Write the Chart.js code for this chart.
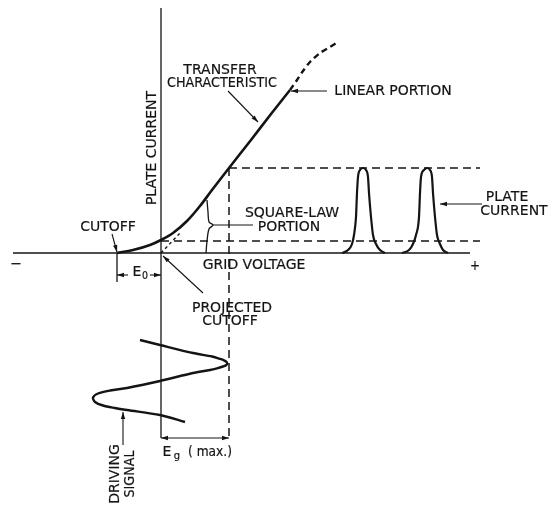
<!DOCTYPE html>
<html>
<head>
<meta charset="utf-8">
<script src="https://cdn.jsdelivr.net/npm/chart.js@4/dist/chart.umd.min.js"></script>
<style>
  body { margin: 0; background: #fff; }
  #grafico { display: block; }
</style>
</head>
<body>
<canvas id="grafico" width="556" height="506"></canvas>
<script>
// grid voltage (x) and plate current (y), arbitrary units, origin at the axis crossing
var gridAxis = [[-14.8, 0], [30.9, 0]];
var plateAxis = [[0, 24.5], [0, -18.5]];

var transferSolid = [[-4.4, 0], [-2.8, 0.3], [-1.1, 0.8], [0, 1.3], [1.2, 2.0], [2.6, 3.2],
                     [3.9, 4.7], [5.1, 6.3], [6.8, 8.5], [9.0, 11.3], [11.0, 13.9], [12.9, 16.3]];
var transferDashed = [[12.9, 16.3], [13.6, 17.3], [14.2, 18.2], [14.9, 19.1], [15.9, 20.0],
                      [16.9, 20.6], [17.7, 21.1]];
var projectedCutoff = [[0, 0], [2.0, 2.1]];

var maxCurrent = [[6.8, 8.5], [31.9, 8.5]];
var minCurrent = [[0, 1.2], [31.9, 1.2]];
var maxGrid = [[6.8, 8.5], [6.8, -18.7]];

var pulse1 = [[18.1, 0], [18.7, 0.3], [19.1, 0.9], [19.3, 1.8], [19.5, 3.6], [19.6, 6.0], [19.7, 7.6],
              [19.9, 8.3], [20.2, 8.5], [20.5, 8.3], [20.7, 7.6], [20.8, 6.0], [21.0, 3.6],
              [21.2, 1.8], [21.5, 0.9], [21.9, 0.3], [22.4, 0]];
var pulse2 = [[24.1, 0], [24.8, 0.3], [25.2, 0.9], [25.5, 1.8], [25.8, 3.6], [25.9, 6.0], [26.0, 7.6],
              [26.3, 8.3], [26.6, 8.5], [26.9, 8.3], [27.1, 7.6], [27.2, 6.0], [27.4, 3.6],
              [27.6, 1.8], [27.9, 0.9], [28.2, 0.3], [28.7, 0]];

var drivingSignal = [[-2.1, -8.7], [-0.1, -9.2], [3.2, -10.0], [5.1, -10.35], [5.8, -10.56],
                     [6.3, -10.73], [6.6, -10.95], [6.55, -11.18], [6.2, -11.35], [5.6, -11.53],
                     [4.9, -11.7], [3.2, -12.0], [-0.1, -12.8], [-3.4, -13.5], [-5.1, -13.75],
                     [-6.3, -14.05], [-6.8, -14.45], [-6.6, -14.9], [-5.8, -15.25], [-4.6, -15.5],
                     [-3.4, -15.7], [-0.1, -16.2], [2.4, -16.9]];

var cutoffTick = [[-4.4, 0], [-4.4, -2.9]];
var squareBrace = [[4.6, 5.3], [4.7, 4.1], [4.8, 3.1], [5.2, 2.8], [4.8, 2.4], [4.6, 1.2], [4.5, 0]];

// leader lines: from, to, arrowhead at "to"
var leaders = [
  { de: [6.7, 16.2], para: [9.7, 13.1], seta: true },
  { de: [16.6, 16.2], para: [13.0, 16.2], seta: true },
  { de: [-4.9, 1.9], para: [-4.4, 0.1], seta: true },
  { de: [5.2, 2.8], para: [9.2, 2.8], seta: false },
  { de: [32.1, 4.9], para: [27.9, 4.9], seta: true },
  { de: [4.2, -4.0], para: [0.2, -0.3], seta: true },
  { de: [-3.8, -19.2], para: [-3.8, -15.9], seta: true },
  { de: [-3.3, -2.2], para: [-4.4, -2.2], seta: true },
  { de: [-1.1, -2.2], para: [0, -2.2], seta: true },
  { de: [3.4, -18.5], para: [0, -18.5], seta: true },
  { de: [3.4, -18.5], para: [6.8, -18.5], seta: true }
];

var textos = [
  { t: 'TRANSFER', p: [5.9, 18.3], w: 76 },
  { t: 'CHARACTERISTIC', p: [6.1, 17.0], w: 110 },
  { t: 'LINEAR PORTION', p: [23.2, 16.2], w: 127 },
  { t: 'PLATE CURRENT', p: [-0.9, 10.5], w: 127, rot: true },
  { t: 'CUTOFF', p: [-5.3, 2.6], w: 57 },
  { t: 'SQUARE-LAW', p: [13.1, 4.0], w: 100 },
  { t: 'PORTION', p: [12.8, 2.6], w: 65 },
  { t: 'GRID VOLTAGE', p: [9.3, -1.2], w: 105 },
  { t: 'PROJECTED', p: [7.1, -5.5], w: 89 },
  { t: 'CUTOFF', p: [6.9, -6.8], w: 56 },
  { t: 'PLATE', p: [34.6, 5.6], w: 45 },
  { t: 'CURRENT', p: [35.3, 4.2], w: 68 },
  { t: '−', p: [-14.5, -1.1], w: 12 },
  { t: '+', p: [31.4, -1.3], w: 10 },
  { t: 'E', p: [-2.4, -1.9], w: 10 },
  { t: '0', p: [-1.6, -2.3], w: 6, small: true },
  { t: 'E', p: [0.6, -19.9], w: 10 },
  { t: 'g', p: [1.6, -20.3], w: 7, small: true },
  { t: '( max.)', p: [4.9, -19.9], w: 44 },
  { t: 'DRIVING', p: [-4.6, -22.1], w: 63, rot: true },
  { t: 'SIGNAL', p: [-3.1, -22.1], w: 47, rot: true }
];

var tinta = '#141414';

function pontos(lista) {
  return lista.map(function(p) { return { x: p[0], y: p[1] }; });
}

function linha(lista, largura, tracejado, suave, monotona) {
  return {
    data: pontos(lista),
    showLine: true,
    borderColor: tinta,
    borderWidth: largura,
    borderDash: tracejado || [],
    pointRadius: 0,
    tension: suave || 0,
    cubicInterpolationMode: monotona ? 'monotone' : 'default',
    fill: false,
    clip: false
  };
}

var datasets = [
  linha(gridAxis, 1.3),
  linha(plateAxis, 1.3),
  linha(transferSolid, 2.6, null, 0.4, true),
  linha(transferDashed, 2.4, [6, 4], 0.3),
  linha(projectedCutoff, 1.4, [3, 3]),
  linha(maxCurrent, 1.5, [8, 5]),
  linha(minCurrent, 1.5, [8, 5]),
  linha(maxGrid, 1.5, [8, 5]),
  linha(pulse1, 2.2, null, 0.4, true),
  linha(pulse2, 2.2, null, 0.4, true),
  linha(drivingSignal, 2.4, null, 0.3),
  linha(cutoffTick, 1.3),
  linha(squareBrace, 1.3, null, 0.3)
];

var anotacoes = {
  id: 'anotacoes',
  afterDatasetsDraw: function(chart) {
    var ctx = chart.ctx;
    var sx = chart.scales.x, sy = chart.scales.y;
    ctx.save();
    ctx.strokeStyle = tinta;
    ctx.fillStyle = tinta;
    ctx.lineWidth = 1.1;

    leaders.forEach(function(l) {
      var x1 = sx.getPixelForValue(l.de[0]), y1 = sy.getPixelForValue(l.de[1]);
      var x2 = sx.getPixelForValue(l.para[0]), y2 = sy.getPixelForValue(l.para[1]);
      ctx.beginPath();
      ctx.moveTo(x1, y1);
      ctx.lineTo(x2, y2);
      ctx.stroke();
      if (l.seta) {
        var a = Math.atan2(y2 - y1, x2 - x1);
        ctx.beginPath();
        ctx.moveTo(x2, y2);
        ctx.lineTo(x2 - 7 * Math.cos(a) + 2.2 * Math.sin(a), y2 - 7 * Math.sin(a) - 2.2 * Math.cos(a));
        ctx.lineTo(x2 - 7 * Math.cos(a) - 2.2 * Math.sin(a), y2 - 7 * Math.sin(a) + 2.2 * Math.cos(a));
        ctx.closePath();
        ctx.fill();
      }
    });

    ctx.textAlign = 'center';
    ctx.textBaseline = 'middle';
    ctx.lineWidth = 0.2;
    textos.forEach(function(o) {
      var x = sx.getPixelForValue(o.p[0]), y = sy.getPixelForValue(o.p[1]);
      ctx.font = (o.small ? '10px' : '14px') + ' "DejaVu Sans", sans-serif';
      ctx.save();
      ctx.translate(x, y);
      if (o.rot) ctx.rotate(-Math.PI / 2);
      ctx.fillText(o.t, 0, 0, o.w);
      ctx.strokeText(o.t, 0, 0, o.w);
      ctx.restore();
    });
    ctx.restore();
  }
};

new Chart(document.getElementById('grafico'), {
  type: 'scatter',
  data: { datasets: datasets },
  options: {
    responsive: false,
    animation: false,
    layout: { padding: 0 },
    plugins: { legend: { display: false }, tooltip: { enabled: false } },
    scales: {
      x: { type: 'linear', min: -16.1, max: 39.5, display: false },
      y: { type: 'linear', min: -25.3, max: 25.3, display: false }
    }
  },
  plugins: [anotacoes]
});
</script>
</body>
</html>
